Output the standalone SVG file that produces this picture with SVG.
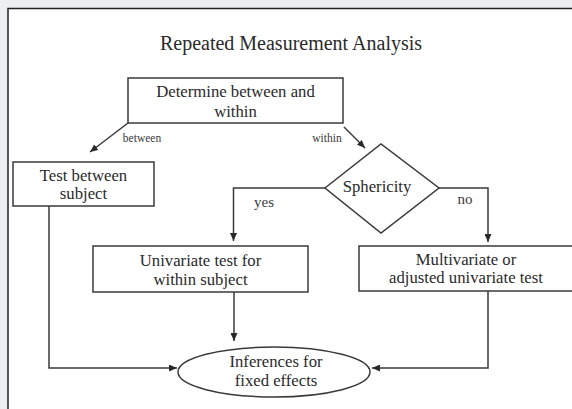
<svg xmlns="http://www.w3.org/2000/svg" width="572" height="409" viewBox="0 0 572 409">
<style>
.box{fill:#fff;stroke:#3a3a3a;stroke-width:1.5}
.t{font-family:"Liberation Serif","Times New Roman",serif;font-size:16.7px;fill:#2a2a2a;text-anchor:middle}
.s{font-family:"Liberation Serif","Times New Roman",serif;font-size:11.5px;fill:#3a3a3a;text-anchor:middle}
.m{font-family:"Liberation Serif","Times New Roman",serif;font-size:15px;fill:#3a3a3a;text-anchor:middle}
.c{fill:none;stroke:#3a3a3a;stroke-width:1.5}
</style>
<defs>
<marker id="ah" markerUnits="userSpaceOnUse" markerWidth="9" markerHeight="7" refX="8" refY="3.5" orient="auto">
<path d="M0,0 L8,3.5 L0,7 z" fill="#2a2a2a"/>
</marker>
</defs>
<rect x="0" y="0" width="572" height="409" fill="#eceef1"/>
<rect x="8" y="8.5" width="600" height="500" fill="#fff" stroke="#222" stroke-width="1.5"/>
<text class="t" x="291" y="50" style="font-size:20px">Repeated Measurement Analysis</text>
<g id="connectors">
<line class="c" x1="128" y1="123" x2="90" y2="152" marker-end="url(#ah)"/>
<line class="c" x1="344" y1="127" x2="365" y2="148" marker-end="url(#ah)"/>
<path class="c" d="M325,188 H233.5 V241" marker-end="url(#ah)"/>
<path class="c" d="M439,188 H488 V242" marker-end="url(#ah)"/>
<path class="c" d="M234,292 V341" marker-end="url(#ah)"/>
<path class="c" d="M49,206 V368 H177" marker-end="url(#ah)"/>
<path class="c" d="M488,291 V368 H372" marker-end="url(#ah)"/>
<text class="s" x="142" y="142">between</text>
<text class="s" x="327" y="142">within</text>
<text class="m" x="264" y="207">yes</text>
<text class="m" x="465" y="204">no</text>
</g>
<g id="determine">
<rect class="box" x="128" y="78" width="215" height="45"/>
<text class="t" x="235.5" y="97">Determine between and</text>
<text class="t" x="235.5" y="117">within</text>
</g>
<g id="test-between">
<rect class="box" x="13" y="162" width="141" height="44"/>
<text class="t" x="83.5" y="181">Test between</text>
<text class="t" x="83.5" y="199">subject</text>
</g>
<g id="sphericity">
<polygon class="box" points="325,188 381,144 439,188 381,233"/>
<text class="t" x="377" y="192">Sphericity</text>
</g>
<g id="univariate">
<rect class="box" x="93" y="246" width="215" height="46"/>
<text class="t" x="200.5" y="266">Univariate test for</text>
<text class="t" x="200.5" y="285">within subject</text>
</g>
<g id="multivariate">
<rect class="box" x="359" y="246" width="214" height="45"/>
<text class="t" x="466" y="265">Multivariate or</text>
<text class="t" x="466" y="283">adjusted univariate test</text>
</g>
<g id="inferences">
<ellipse class="box" cx="274" cy="372" rx="96" ry="25"/>
<text class="t" x="276" y="367">Inferences for</text>
<text class="t" x="276" y="386">fixed effects</text>
</g>
</svg>
